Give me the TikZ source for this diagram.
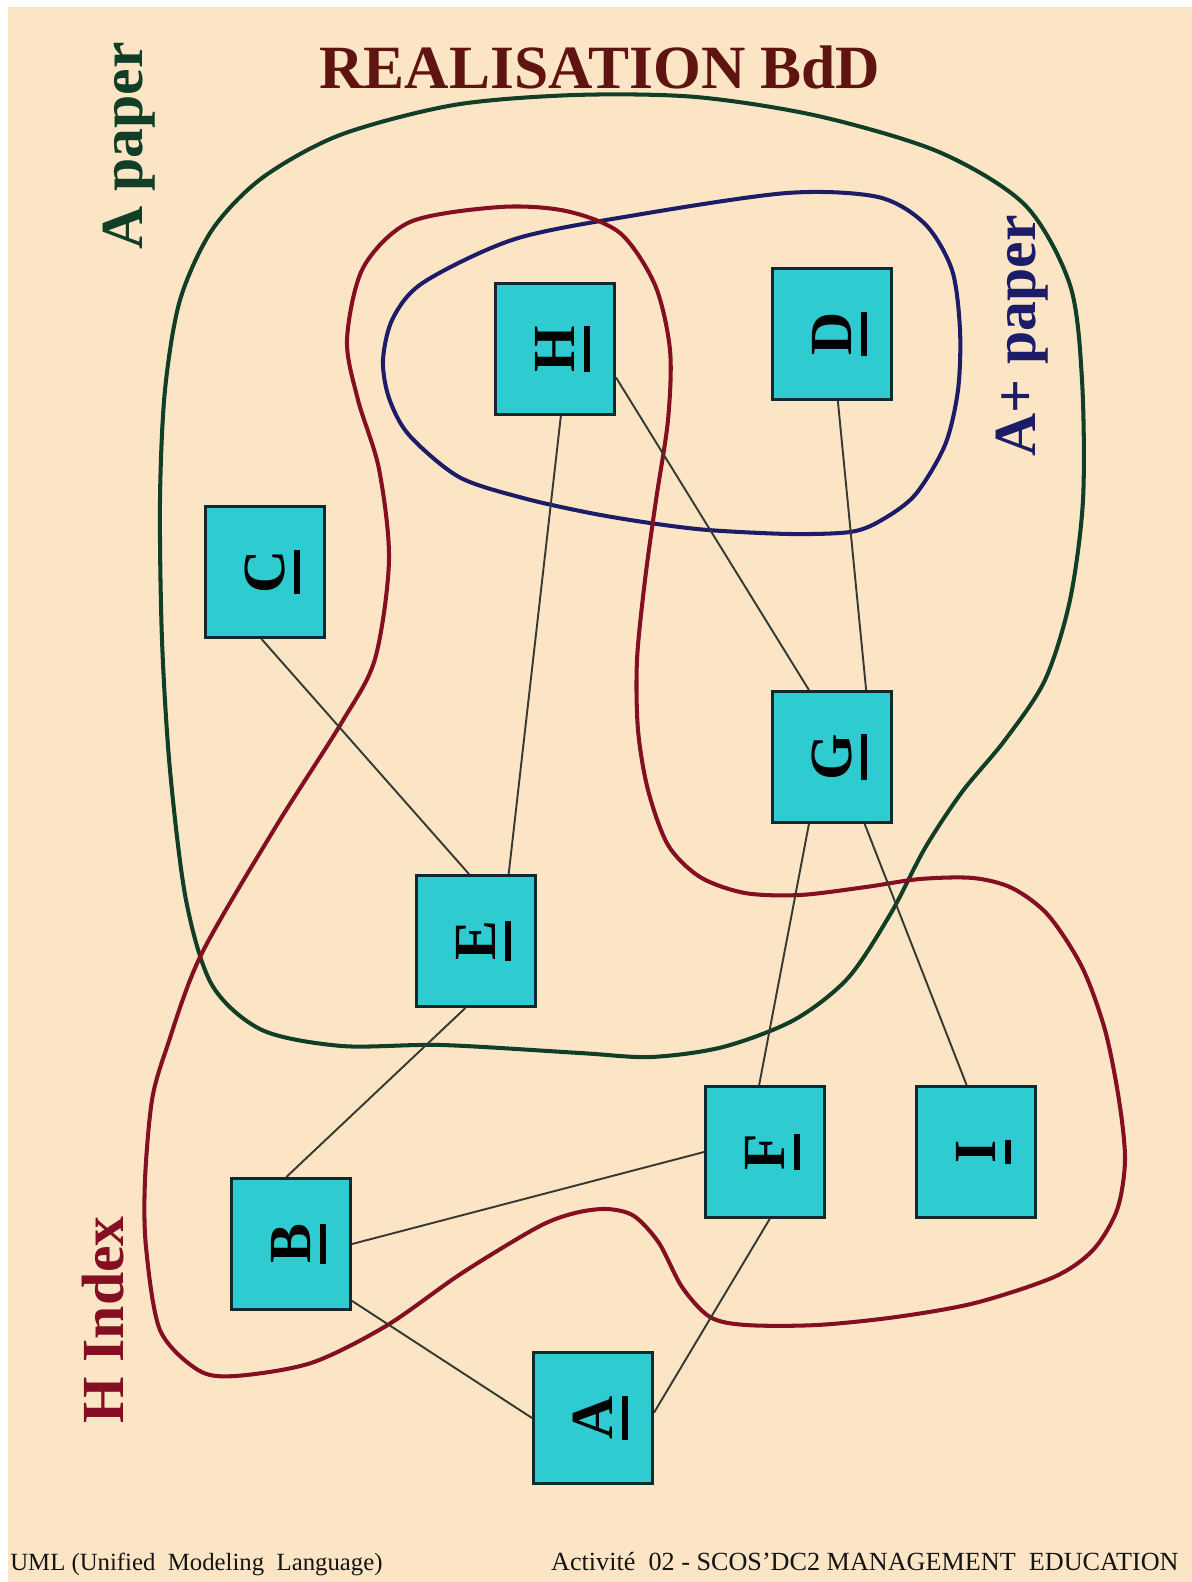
\documentclass[tikz,border=0pt]{standalone}
\usepackage{fontspec}
\setmainfont{Liberation Serif}

\definecolor{paperbg}{RGB}{252,229,197}
\definecolor{boxcyan}{RGB}{46,204,208}
\definecolor{boxedge}{RGB}{18,40,48}
\definecolor{linkgray}{RGB}{55,58,50}
\definecolor{apaper}{RGB}{16,62,38}
\definecolor{aplus}{RGB}{28,28,104}
\definecolor{hindex}{RGB}{132,14,34}
\definecolor{titlered}{RGB}{96,20,18}
\definecolor{footgray}{RGB}{20,20,20}

\begin{document}
\begin{tikzpicture}[x=0.02cm, y=-0.02cm,
  box/.style={rectangle, draw=boxedge, fill=boxcyan, line width=1.7pt,
    minimum width=2.38cm, minimum height=2.62cm, inner sep=0pt,
    font=\fontsize{34}{40}\selectfont\bfseries},
  link/.style={draw=linkgray, line width=1.1pt},
  zone/.style={line width=2.3pt, smooth cycle},
  side/.style={font=\fontsize{34}{40}\selectfont\bfseries, rotate=90,
    inner sep=0pt},
  foot/.style={text=footgray, inner sep=0pt},
]

% Page
\useasboundingbox (0,0) rectangle (1192,1582);
\fill[white] (0,0) rectangle (1192,1582);
\fill[paperbg] (8,7) rectangle (1192,1582);

% Rotated, underlined box letter
\def\vlbl#1{\rotatebox{90}{\setbox0\hbox{#1}%
  \rlap{\smash{\rule[-8.7pt]{\wd0}{3.2pt}}}\box0}}

% Zones
\draw[zone, apaper] plot coordinates {
  (575,95) (696,97) (818,116) (939,152) (1025,205) (1070,285) (1082,380)
  (1083,500) (1070,600) (1045,680) (1005,740) (962,792) (925,848)
  (891,913) (848,978) (794,1020) (723,1047) (651,1057) (580,1053)
  (442,1045) (342,1046) (262,1030) (212,985) (186,900) (170,770)
  (162,640) (160,500) (165,390) (180,300) (212,230) (262,178) (340,135)
  (454,105)};
\draw[zone, aplus] plot coordinates {
  (383,360) (393,318) (424,282) (515,239) (636,215) (787,193) (878,197)
  (925,224) (952,270) (960,330) (958,390) (945,445) (915,495) (880,521)
  (850,532) (790,534) (708,530) (650,523) (590,513) (523,498) (459,477)
  (409,435) (389,398)};
\draw[zone, hindex] plot coordinates {
  (500,207) (566,211) (620,233) (655,285) (670,350) (668,420) (656,500)
  (645,580) (637,660) (638,730) (648,790) (668,845) (700,877) (745,893)
  (800,895) (866,887) (920,879) (973,878) (1012,888) (1048,915) (1082,967)
  (1105,1030) (1119,1100) (1125,1160) (1117,1210) (1093,1250) (1054,1277)
  (975,1303) (896,1317) (817,1325) (746,1325) (710,1317) (682,1287)
  (659,1243) (634,1216) (607,1209) (575,1213) (538,1227) (462,1273)
  (386,1326) (311,1363) (235,1376) (198,1370) (160,1330) (146,1247)
  (145,1180) (152,1100) (167,1047) (201,955) (275,828) (342,722)
  (375,659) (389,560) (379,469) (358,400) (347,340) (363,268) (410,222)};

% Boxes
\node[box] (H) at (555,349) {\vlbl{H}};
\node[box] (D) at (832,334) {\vlbl{D}};
\node[box] (C) at (265,572) {\vlbl{C}};
\node[box] (G) at (832,757) {\vlbl{G}};
\node[box] (E) at (476,941) {\vlbl{E}};
\node[box] (F) at (765,1152) {\vlbl{F}};
\node[box] (I) at (976,1152) {\vlbl{I}};
\node[box] (B) at (291,1244) {\vlbl{B}};
\node[box] (A) at (593,1418) {\vlbl{A}};

% Links
\draw[link] (H.-85) -- (E.64);
\draw[link] (H.-25) -- (G.109);
\draw[link] (D.-85) -- (G.63);
\draw[link] (C.-93) -- (E.96);
\draw[link] (G.-109) -- (F.95);
\draw[link] (G.-64) -- (I.98);
\draw[link] (E.-99) -- (B.94);
\draw[link] (B.east) -- (F.west);
\draw[link] (F.-86) -- (A.5);
\draw[link] (B.-43) -- (A.west);

% Titles
\node[font=\fontsize{35}{40}\selectfont\bfseries, text=titlered, inner sep=0pt]
  (title) at (600,67) {REALISATION BdD};
\node[side, text=apaper] (apaperlbl) at (129,146) {A paper};
\node[side, text=aplus] (apluslbl) at (1022,336) {A+ paper};
\node[side, text=hindex] (hindexlbl) at (103,1320) {H Index};

% Footer
\node[foot, font=\fontsize{14.1}{17}\selectfont, anchor=base west]
  (umlnote) at (10,1570) {UML (Unified\ \ Modeling\ \ Language)};
\node[foot, font=\fontsize{14.9}{17}\selectfont, anchor=base east]
  (actnote) at (1179,1570)
  {Activité\ \ 02 - SCOS'DC2 MANAGEMENT\ \ EDUCATION};

\end{tikzpicture}
\end{document}
